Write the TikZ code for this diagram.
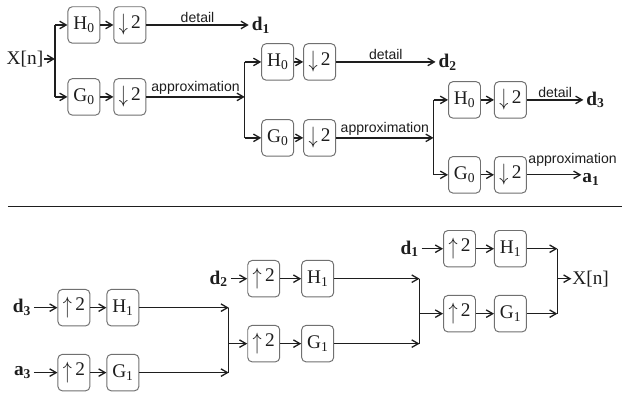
\documentclass[tikz,border=0pt]{standalone}
\usepackage{fontspec}
\setmainfont{Liberation Serif}
\setsansfont{Liberation Sans}
\usetikzlibrary{arrows.meta,calc}
\definecolor{ink}{HTML}{1E1E1E}
\definecolor{boxgray}{HTML}{707070}
\newcommand{\dsamp}{\raisebox{-.3ex}{\scalebox{1}[1.3]{$\downarrow$}}\,2}
\newcommand{\usamp}{\raisebox{-.3ex}{\scalebox{1}[1.3]{$\uparrow$}}\,2}

\begin{document}
\begin{tikzpicture}[x=0.04cm,y=-0.04cm,every node/.style={text=ink,font=\fontsize{22}{24}\selectfont},blk/.style={draw=boxgray,line width=1.1pt,rounded corners=5pt,minimum width=1.28cm,minimum height=1.46cm,inner sep=0pt},sig/.style={font=\fontsize{22}{24}\selectfont\bfseries},lbl/.style={font=\fontsize{16}{18}\selectfont\sffamily,above,inner sep=2pt},wire/.style={ink,line width=1.5pt},arr/.style={wire,-{Straight Barb[length=2.6mm,width=3mm]}}]
\fill[white] (0,0) rectangle (623,396);
\node[inner sep=1pt] (xa) at (25,59){X[n]};\coordinate (sa) at (55,59);
\node[blk] (h0a) at (84,25){H\textsubscript{0}};\node[blk] (da) at (130,25){\dsamp};
\node[blk] (g0a) at (84,97){G\textsubscript{0}};\node[blk] (db) at (130,97){\dsamp};
\node[sig,anchor=west] (d1) at (249,25){d\textsubscript{1}};\coordinate (sb) at (245,97);
\draw[arr] (xa)--(sa);\draw[wire] (sa|-h0a)--(sa|-g0a);\draw[arr] (sa|-h0a)--(h0a);\draw[arr] (sa|-g0a)--(g0a);
\draw[arr] (h0a)--(da);\draw[arr] (g0a)--(db);
\draw[arr] (da)--(d1) node[lbl,midway]{detail};\draw[arr] (db)--(sb) node[lbl,midway]{approximation};
\node[blk] (h0b) at (278,62){H\textsubscript{0}};\node[blk] (dc) at (320,62){\dsamp};
\node[blk] (g0b) at (278,138){G\textsubscript{0}};\node[blk] (dd) at (320,138){\dsamp};
\node[sig,anchor=west] (d2) at (436,62){d\textsubscript{2}};\coordinate (sc) at (434,138);
\draw[wire] (sb|-h0b)--(sb|-g0b);\draw[arr] (sb|-h0b)--(h0b);\draw[arr] (sb|-g0b)--(g0b);
\draw[arr] (h0b)--(dc);\draw[arr] (g0b)--(dd);
\draw[arr] (dc)--(d2) node[lbl,midway]{detail};\draw[arr] (dd)--(sc) node[lbl,midway]{approximation};
\node[blk] (h0c) at (465,100){H\textsubscript{0}};\node[blk] (de) at (511,100){\dsamp};
\node[blk] (g0c) at (465,175){G\textsubscript{0}};\node[blk] (df) at (511,175){\dsamp};
\node[sig,anchor=west] (d3) at (584,100){d\textsubscript{3}};\node[sig,anchor=west,inner sep=1pt] (a1) at (582,180){a\textsubscript{1}};
\draw[wire] (sc|-h0c)--(sc|-g0c);\draw[arr] (sc|-h0c)--(h0c);\draw[arr] (sc|-g0c)--(g0c);
\draw[arr] (h0c)--(de);\draw[arr] (g0c)--(df);
\draw[arr] (de)--(d3) node[lbl,midway]{detail};\draw[arr] (df)--(df-|a1.west) node[lbl,pos=0,anchor=south west,inner sep=1pt,yshift=8pt]{approximation};
\draw[wire] (8,207)--(623,207);
\node[sig,anchor=east] (d3b) at (34,308){d\textsubscript{3}};\node[blk] (ua) at (74,308){\usamp};\node[blk] (h1a) at (123,308){H\textsubscript{1}};
\node[sig,anchor=east] (a3) at (34,373){a\textsubscript{3}};\node[blk] (ub) at (74,373){\usamp};\node[blk] (g1a) at (123,373){G\textsubscript{1}};
\coordinate (sd) at (229,344);
\draw[arr] (d3b)--(ua);\draw[arr] (ua)--(h1a);\draw[arr] (a3)--(ub);\draw[arr] (ub)--(g1a);
\draw[arr] (h1a)--(sd|-h1a);\draw[arr] (g1a)--(sd|-g1a);\draw[wire] (sd|-h1a)--(sd|-g1a);
\node[sig,anchor=east] (d2b) at (231,279){d\textsubscript{2}};\node[blk] (uc) at (264,279){\usamp};\node[blk] (h1b) at (318,279){H\textsubscript{1}};
\node[blk] (ud) at (264,344){\usamp};\node[blk] (g1b) at (318,344){G\textsubscript{1}};
\coordinate (se) at (420,314);
\draw[arr] (sd)--(ud);\draw[arr] (d2b)--(uc);\draw[arr] (uc)--(h1b);\draw[arr] (ud)--(g1b);
\draw[arr] (h1b)--(se|-h1b);\draw[arr] (g1b)--(se|-g1b);\draw[wire] (se|-h1b)--(se|-g1b);
\node[sig,anchor=east] (d1b) at (422,249){d\textsubscript{1}};\node[blk] (ue) at (460,249){\usamp};\node[blk] (h1c) at (511,249){H\textsubscript{1}};
\node[blk] (uf) at (460,314){\usamp};\node[blk] (g1c) at (511,314){G\textsubscript{1}};
\coordinate (sf) at (558,279);\node[anchor=west,inner sep=1pt] (xb) at (572,279){X[n]};
\draw[arr] (se)--(uf);\draw[arr] (d1b)--(ue);\draw[arr] (ue)--(h1c);\draw[arr] (uf)--(g1c);
\draw[arr] (h1c)--(sf|-h1c);\draw[arr] (g1c)--(sf|-g1c);\draw[wire] (sf|-h1c)--(sf|-g1c);\draw[arr] (sf)--(xb);
\end{tikzpicture}
\end{document}
